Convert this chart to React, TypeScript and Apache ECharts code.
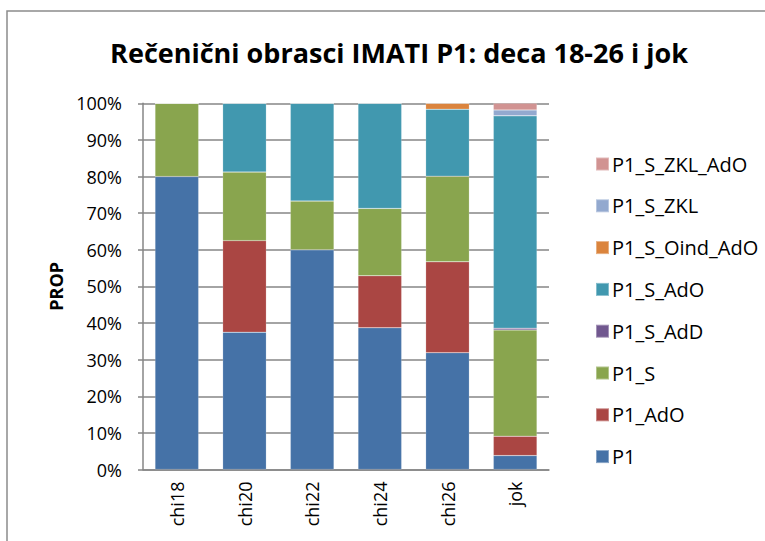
import React, { useEffect, useRef } from "react";
import * as echarts from "echarts";

const categories = ["chi18", "chi20", "chi22", "chi24", "chi26", "jok"];
const seriesNames = ["P1", "P1_AdO", "P1_S", "P1_S_AdD", "P1_S_AdO", "P1_S_Oind_AdO", "P1_S_ZKL", "P1_S_ZKL_AdO"];
const p1 = [80, 37.5, 60, 38.7, 31.9, 3.8];
const p1AdO = [0, 25, 0, 14.2, 24.8, 5.3];
const p1S = [20, 18.75, 13.33, 18.4, 23.4, 29.0];
const p1SAdD = [0, 0, 0, 0, 0, 0.5];
const p1SAdO = [0, 18.75, 26.67, 28.7, 18.3, 58.0];
const p1SOindAdO = [0, 0, 0, 0, 1.6, 0];
const p1SZKL = [0, 0, 0, 0, 0, 1.6];
const p1SZKLAdO = [0, 0, 0, 0, 0, 1.8];
const seriesValues = [p1, p1AdO, p1S, p1SAdD, p1SAdO, p1SOindAdO, p1SZKL, p1SZKLAdO];
const colors = ["#4572A7", "#AA4643", "#89A54E", "#71588F", "#4198AF", "#DB843D", "#93A9CF", "#D19392"];
const titleText = "Rečenični obrasci IMATI P1: deca 18-26 i jok";
const yAxisName = "PROP";

const FONT = "'Open Sans', 'Noto Sans', sans-serif";

export default function App() {
  const ref = useRef<HTMLDivElement>(null);
  useEffect(() => {
    if (!ref.current) return;
    const chart = echarts.init(ref.current, null, { renderer: "svg" });
    chart.setOption({
      animation: false,
      backgroundColor: "#ffffff",
      textStyle: { fontFamily: FONT },
      title: {
        text: titleText,
        left: 394,
        textAlign: "center",
        top: 34,
        textStyle: { fontFamily: FONT, fontSize: 27, fontWeight: "bold", color: "#000" },
      },
      graphic: [
        {
          type: "rect",
          shape: { x: 7, y: 11, width: 800, height: 600 },
          style: { fill: "none", stroke: "#8c8c8c", lineWidth: 1.5 },
          silent: true,
          z: -1,
        },
      ],
      legend: {
        orient: "vertical",
        left: 590,
        top: 149,
        itemWidth: 13,
        itemHeight: 13,
        itemGap: 21.8,
        icon: "rect",
        data: seriesNames.slice().reverse(),
        textStyle: { fontFamily: FONT, fontSize: 20, color: "#000", padding: [0, 0, 0, -2] },
      },
      grid: { left: 143, top: 103.3, right: 216, bottom: 71.5, containLabel: false },
      xAxis: {
        type: "category",
        data: categories,
        axisLine: { lineStyle: { color: "#868686", width: 1.5 } },
        axisTick: { show: false },
        axisLabel: { rotate: 90, fontSize: 18, color: "#000", margin: 12, fontFamily: FONT },
      },
      yAxis: {
        type: "value",
        min: 0,
        max: 100,
        interval: 10,
        name: yAxisName,
        nameLocation: "middle",
        nameGap: 76,
        nameTextStyle: { fontFamily: FONT, fontSize: 18, fontWeight: "bold", color: "#000" },
        axisLine: { show: true, lineStyle: { color: "#868686", width: 1.5 } },
        axisTick: { show: true, length: 5, lineStyle: { color: "#868686", width: 1.5 } },
        splitLine: { lineStyle: { color: "#868686", width: 1.5 } },
        axisLabel: { formatter: "{value}%", fontSize: 18, color: "#000", margin: 21, fontFamily: FONT },
      },
      series: seriesNames.map((name, i) => ({
        name,
        type: "bar",
        stack: "total",
        barWidth: "64.5%",
        data: seriesValues[i],
        itemStyle: { color: colors[i], borderColor: "rgba(255,255,255,0.35)", borderWidth: 0.5 },
      })),
    });
    return () => chart.dispose();
  }, []);
  return (
    <div
      ref={ref}
      style={{ position: "absolute", left: 0, top: 0, width: 765, height: 541 }}
    />
  );
}
